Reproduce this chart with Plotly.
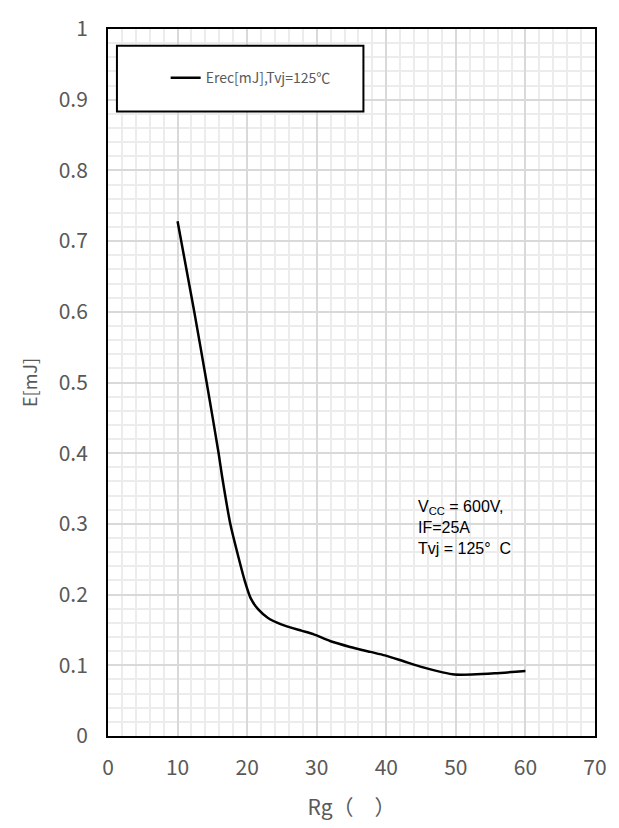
import plotly.graph_objects as go

rg = [10, 12.4, 14.2, 15.9, 16.4, 17.6, 18.8, 19.7, 20.5, 21.6, 23.0, 24.9, 27.8, 29.5,
      32.0, 34.8, 37.7, 39.8, 42.4, 45.3, 48.1, 49.8, 52.3, 55.6, 60]
erec = [0.728, 0.600, 0.499, 0.400, 0.367, 0.299, 0.251, 0.218, 0.195, 0.179, 0.167, 0.158,
        0.149, 0.144, 0.134, 0.126, 0.119, 0.114, 0.106, 0.097, 0.090, 0.087, 0.087, 0.0886, 0.092]
series_name = "Erec[mJ],Tvj=125℃"
x_ticks = [0, 10, 20, 30, 40, 50, 60, 70]
y_ticks = [0, 0.1, 0.2, 0.3, 0.4, 0.5, 0.6, 0.7, 0.8, 0.9, 1]
y_tick_text = ["0", "0.1", "0.2", "0.3", "0.4", "0.5", "0.6", "0.7", "0.8", "0.9", "1"]

FONT = "Noto Sans CJK JP"
GRAY = "#595959"

fig = go.Figure()
fig.add_trace(go.Scatter(
    x=rg, y=erec, mode="lines", name=series_name,
    line=dict(color="black", width=2.5, shape="spline", smoothing=0.6),
    showlegend=True,
))

fig.update_layout(
    width=619, height=828,
    margin=dict(l=108, r=21, t=18, b=91),
    paper_bgcolor="white", plot_bgcolor="white",
    font=dict(family=FONT, color=GRAY),
    showlegend=True,
    legend=dict(
        x=(166 - 108) / 490, y=(737 - 68) / 719, xanchor="left", yanchor="middle",
        bgcolor="rgba(0,0,0,0)", borderwidth=0,
        font=dict(family=FONT, size=14, color=GRAY),
    ),
    xaxis=dict(
        range=[0, 70], tickvals=x_ticks,
        showgrid=True, gridcolor="#d9d9d9", gridwidth=1.5,
        minor=dict(dtick=2, showgrid=True, gridcolor="#ececec", gridwidth=1.5),
        showline=True, linecolor="black", linewidth=2, mirror=True,
        ticks="", ticklabelstandoff=12,
        tickfont=dict(family=FONT, size=21, color=GRAY),
        title=dict(text="Rg（　）", font=dict(family=FONT, size=21, color=GRAY), standoff=20),
        zeroline=False,
    ),
    yaxis=dict(
        range=[0, 1], tickvals=y_ticks, ticktext=y_tick_text,
        showgrid=True, gridcolor="#d9d9d9", gridwidth=1.5,
        minor=dict(dtick=0.02, showgrid=True, gridcolor="#ececec", gridwidth=1.5),
        showline=True, linecolor="black", linewidth=2, mirror=True,
        ticks="", ticklabelstandoff=14,
        tickfont=dict(family=FONT, size=21, color=GRAY),
        title=dict(text="E[mJ]", font=dict(family=FONT, size=18, color=GRAY), standoff=16),
        zeroline=False,
    ),
    shapes=[dict(
        type="rect", xref="paper", yref="paper",
        x0=(117 - 108) / 490, x1=(365 - 108) / 490,
        y0=(737 - 102) / 719, y1=(737 - 35) / 719,
        line=dict(color="black", width=2), fillcolor="white", layer="above",
    )],
    annotations=[dict(
        x=44.3, y=0.325, xref="x", yref="y", xanchor="left", yanchor="middle",
        text="V<sub>CC</sub> = 600V,<br>IF=25A<br>Tvj = 125°  C",
        showarrow=False, align="left",
        font=dict(family="Liberation Sans, Arial", size=16, color="black"),
        yshift=-21,
    )],
)

fig.write_html("out.html")
